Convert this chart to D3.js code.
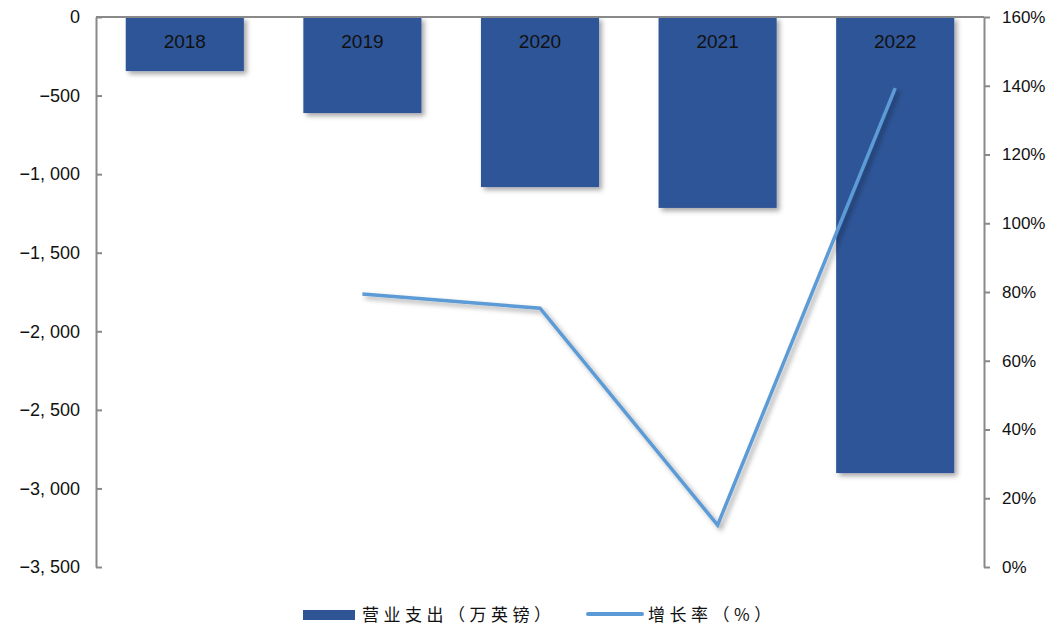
<!DOCTYPE html>
<html>
<head>
<meta charset="utf-8">
<script src="https://cdn.jsdelivr.net/npm/d3@7"></script>
<style>
  html, body { margin: 0; padding: 0; background: #fff; }
  svg { display: block; }
</style>
</head>
<body>
<svg id="chart" width="1061" height="630"></svg>
<script>
// Operating expenses (10k GBP) and year-over-year growth rate (%)
const years = ["2018", "2019", "2020", "2021", "2022"];
const expenses = [-344, -611, -1082, -1215, -2902];
const growthYears = ["2019", "2020", "2021", "2022"];
const growth = [79.4, 75.3, 12.2, 139.3];
const leftTicks = [0, -500, -1000, -1500, -2000, -2500, -3000, -3500];
const rightTicks = [0, 20, 40, 60, 80, 100, 120, 140, 160];

const barColor = "#2F5597";
const lineColor = "#5B9BD5";
const axisColor = "#898989";

const svg = d3.select("#chart");
const margin = { left: 96, right: 1061 - 984, top: 17, bottom: 630 - 567 };
const W = 1061, H = 630;

const x = d3.scaleBand().domain(years).range([margin.left, W - margin.right]).paddingInner(0.335).paddingOuter(0.1675);
const yL = d3.scaleLinear().domain([-3500, 0]).range([H - margin.bottom, margin.top]);
const yR = d3.scaleLinear().domain([0, 160]).range([H - margin.bottom, margin.top]);

// soft drop shadow shared by bars and line
const defs = svg.append("defs");
const f = defs.append("filter").attr("id", "shadow").attr("x", "-20%").attr("y", "-20%").attr("width", "140%").attr("height", "140%");
f.append("feDropShadow").attr("dx", 3).attr("dy", 3).attr("stdDeviation", 2.5).attr("flood-color", "#000").attr("flood-opacity", 0.35);

// bars hang down from zero
svg.append("g").selectAll("rect").data(years).join("rect")
  .attr("x", d => x(d))
  .attr("width", x.bandwidth())
  .attr("y", yL(0))
  .attr("height", (d, i) => yL(expenses[i]) - yL(0))
  .attr("fill", barColor)
  .attr("filter", "url(#shadow)");

// year labels inside the bars
svg.append("g").selectAll("text").data(years).join("text")
  .attr("x", d => x(d) + x.bandwidth() / 2)
  .attr("y", 48)
  .attr("text-anchor", "middle")
  .attr("font-family", "Liberation Sans, Arial, sans-serif")
  .attr("font-size", 19)
  .attr("fill", "#111")
  .text(d => d);

// growth line
const line = d3.line()
  .x((d, i) => x(growthYears[i]) + x.bandwidth() / 2)
  .y(d => yR(d));
svg.append("path")
  .datum(growth)
  .attr("d", line)
  .attr("fill", "none")
  .attr("stroke", lineColor)
  .attr("stroke-width", 3.5)
  .attr("stroke-linejoin", "miter")
  .attr("filter", "url(#shadow)");

// axes
const fmtL = d => d === 0 ? "0" : "\u2212" + d3.format(",")(-d).replace(",", ", ");
const leftAxis = d3.axisLeft(yL).tickValues(leftTicks).tickSizeInner(-6).tickSizeOuter(0).tickPadding(16).tickFormat(fmtL);
const gL = svg.append("g").attr("transform", `translate(${margin.left},0)`).call(leftAxis);
gL.select(".domain").attr("stroke", axisColor).attr("stroke-width", 2);
gL.selectAll(".tick line").attr("stroke", axisColor).attr("stroke-width", 2);
gL.selectAll(".tick text").attr("font-family", "Liberation Sans, Arial, sans-serif").attr("font-size", 18).attr("fill", "#111");

const rightAxis = d3.axisRight(yR).tickValues(rightTicks).tickSizeInner(6).tickSizeOuter(0).tickPadding(12).tickFormat(d => d + "%");
const gR = svg.append("g").attr("transform", `translate(${W - margin.right},0)`).call(rightAxis);
gR.select(".domain").attr("stroke", axisColor).attr("stroke-width", 2);
gR.selectAll(".tick line").attr("stroke", axisColor).attr("stroke-width", 2);
gR.selectAll(".tick text").attr("font-family", "Liberation Sans, Arial, sans-serif").attr("font-size", 17).attr("fill", "#111");

// category baseline at zero
svg.append("line")
  .attr("x1", margin.left).attr("x2", W - margin.right)
  .attr("y1", yL(0)).attr("y2", yL(0))
  .attr("stroke", axisColor).attr("stroke-width", 2);

// legend
const lg = svg.append("g").attr("font-family", "Noto Sans CJK SC, sans-serif").attr("font-size", 17).attr("fill", "#111");
lg.append("rect").attr("x", 303).attr("y", 610).attr("width", 52).attr("height", 10).attr("fill", barColor);
lg.append("text").attr("x", 362).attr("y", 621).attr("letter-spacing", 4.5).text("营业支出（万英镑）");
lg.append("line").attr("x1", 588).attr("x2", 642).attr("y1", 614).attr("y2", 614)
  .attr("stroke", lineColor).attr("stroke-width", 4).attr("stroke-linecap", "round");
lg.append("text").attr("x", 648).attr("y", 621).attr("letter-spacing", 4.5).text("增长率（%）");
</script>
</body>
</html>
